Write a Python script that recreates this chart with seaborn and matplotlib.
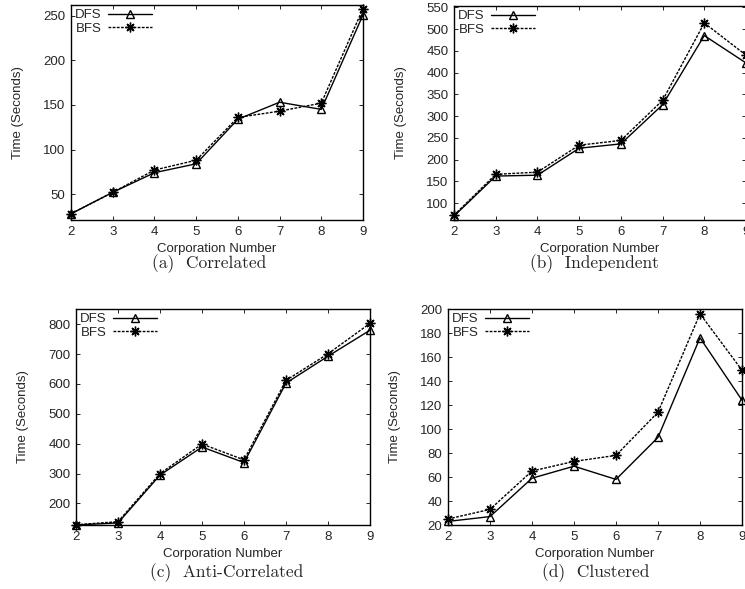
import matplotlib
matplotlib.use("Agg")
import matplotlib.pyplot as plt
import seaborn as sns

# corporation number on the x axis
corp = [2, 3, 4, 5, 6, 7, 8, 9]

# time in seconds
dfs_correlated = [28, 52, 74, 84, 134, 153, 145, 251]
bfs_correlated = [28, 52, 77, 88, 136, 143, 152, 258]

dfs_independent = [70, 162, 164, 226, 236, 326, 485, 422]
bfs_independent = [72, 166, 171, 233, 244, 336, 514, 440]

dfs_anti = [128, 135, 295, 389, 337, 603, 693, 780]
bfs_anti = [129, 139, 300, 399, 346, 612, 701, 803]

dfs_clustered = [23, 27, 59, 69, 58, 93, 176, 124]
bfs_clustered = [25, 33, 65, 73, 78, 114, 196, 149]

captions = ["(a)  Correlated", "(b)  Independent", "(c)  Anti-Correlated", "(d)  Clustered"]

W, H = 745, 589
FS = 9.5


def rect(left, right, top, bottom):
    return [left / W, 1 - bottom / H, (right - left) / W, (bottom - top) / H]


sns.set_style("ticks")
plt.rcParams["font.family"] = ["Liberation Sans", "DejaVu Sans"]
plt.rcParams["font.size"] = FS

fig = plt.figure(figsize=(W / 100, H / 100), dpi=100)

panels = [
    # data, axes box (px), ylim, yticks, caption centre (px)
    (dfs_correlated, bfs_correlated, rect(71, 363, 5, 220), (21, 262), range(50, 251, 50), (209, 264)),
    (dfs_independent, bfs_independent, rect(454, 746, 6, 220), (61, 553), range(100, 551, 50), (594, 264)),
    (dfs_anti, bfs_anti, rect(76, 370, 309, 525), (128, 851), range(200, 801, 100), (227, 573)),
    (dfs_clustered, bfs_clustered, rect(448, 742, 309, 525), (20, 200), range(20, 201, 20), (596, 573)),
]

for (dfs, bfs, box, ylim, yticks, cap_xy), caption in zip(panels, captions):
    ax = fig.add_axes(box)
    sns.lineplot(x=corp, y=dfs, ax=ax, color="black", linewidth=1.0,
                 linestyle="-", marker="^", markersize=6,
                 markerfacecolor="none", markeredgecolor="black",
                 markeredgewidth=1.0, label="DFS", clip_on=False)
    sns.lineplot(x=corp, y=bfs, ax=ax, color="black", linewidth=1.0,
                 linestyle=(0, (2, 1)), marker=(8, 2, 0), markersize=7,
                 markeredgecolor="black", markeredgewidth=1.0,
                 label="BFS", clip_on=False)
    ax.set_xlim(2, 9)
    ax.set_ylim(*ylim)
    ax.set_xticks(corp)
    ax.set_yticks(list(yticks))
    ax.tick_params(direction="in", top=True, right=True, length=3,
                   width=0.7, pad=4, labelsize=FS)
    for side in ax.spines.values():
        side.set_linewidth(1.0)
        side.set_color("black")
    ax.set_xlabel("Corporation Number", fontsize=FS, labelpad=4)
    ax.set_ylabel("Time (Seconds)", fontsize=FS, labelpad=14)
    ax.legend(loc="upper left", markerfirst=False, frameon=False,
              handlelength=3.3, handletextpad=0.5, labelspacing=0.12,
              borderaxespad=0.2, borderpad=0.1, fontsize=FS, numpoints=1)
    fig.text(cap_xy[0] / W, 1 - cap_xy[1] / H, caption, family="cmr10",
             fontsize=12.5, ha="center", va="center")

fig.savefig("out.png", dpi=100)
